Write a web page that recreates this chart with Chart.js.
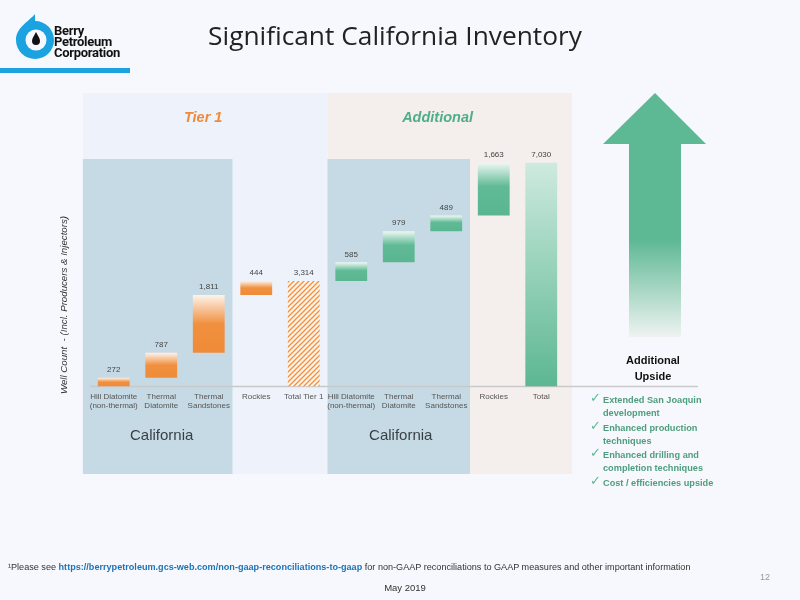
<!DOCTYPE html>
<html>
<head>
<meta charset="utf-8">
<script src="https://cdn.jsdelivr.net/npm/chart.js@4.4.0/dist/chart.umd.min.js"></script>
<style>
  html, body { margin: 0; padding: 0; }
  body { width: 800px; height: 600px; background: #f7f8fd; position: relative; overflow: hidden; font-family: "Liberation Sans", Arial, sans-serif; }
  #chartWrap { position: absolute; left: 0; top: 0; width: 800px; height: 600px; }
  .abs { position: absolute; white-space: nowrap; }
  #title { left: 0; width: 790px; top: 17px; text-align: center; font-family: "Open Sans", sans-serif; font-size: 26.3px; color: #222; }
  #logoText { left: 54px; top: 25px; font-family: Roboto, Arial, sans-serif; font-weight: bold; font-size: 13px; line-height: 11px; color: #111; letter-spacing: -0.3px; }
  #logoBar { left: 0; top: 68px; width: 130px; height: 5px; background: #1aa3e0; }
  #yTitle { left: 63px; top: 305px; transform: translate(-50%, -50%) rotate(-90deg); font-style: italic; font-size: 9.7px; color: #333; }
  #upside { left: 603px; width: 100px; top: 352px; text-align: center; font-weight: bold; font-size: 11px; line-height: 16px; color: #111; }
  #checks { left: 590px; top: 394px; font-weight: bold; font-size: 9.2px; line-height: 13px; color: #4e9d7d; }
  #checks div { position: relative; padding-left: 13px; margin-bottom: 1.5px; }
  #checks div span { position: absolute; left: 0; top: -3px; font-size: 13px; font-weight: normal; color: #5cb893; }
  #footnote { left: 8px; top: 562px; font-size: 9.1px; color: #333; }
  #footnote b { color: #1b74b8; }
  #date { left: 0; width: 810px; top: 582px; text-align: center; font-size: 9.5px; color: #333; }
  #page { left: 760px; top: 572px; font-size: 9px; color: #999; }
</style>
</head>
<body>
<div id="chartWrap"><canvas id="chart" width="800" height="600"></canvas></div>

<svg class="abs" style="left:0;top:0" width="800" height="600">
  <defs>
    <linearGradient id="arrowGrad" gradientUnits="userSpaceOnUse" x1="0" y1="93" x2="0" y2="337">
      <stop offset="0" stop-color="#5db894"/>
      <stop offset="0.6" stop-color="#5db894"/>
      <stop offset="1" stop-color="#eef3f1"/>
    </linearGradient>
  </defs>
  <!-- logo -->
  <path d="M35 14 C28 22 16 28 16 40 A19 19 0 0 0 54 40 A19 19 0 0 0 35 21 Z" fill="#1aa3e0"/>
  <circle cx="36" cy="40" r="10.5" fill="#f7f8fd"/>
  <path d="M36 32 C34 36 32 38 32 41 A4 4 0 0 0 40 41 C40 38 38 36 36 32 Z" fill="#111"/>
  <!-- upside arrow -->
  <polygon points="655,93 706,144 681,144 681,337 629,337 629,144 603,144" fill="url(#arrowGrad)"/>
</svg>

<div id="logoText" class="abs">Berry<br>Petroleum<br>Corporation</div>
<div id="logoBar" class="abs"></div>
<div id="title" class="abs">Significant California Inventory</div>
<div id="yTitle" class="abs">Well Count&nbsp; - (Incl. Producers &amp; Injectors)</div>
<div id="upside" class="abs">Additional<br>Upside</div>
<div id="checks" class="abs">
  <div><span>✓</span>Extended San Joaquin<br>development</div>
  <div><span>✓</span>Enhanced production<br>techniques</div>
  <div><span>✓</span>Enhanced drilling and<br>completion techniques</div>
  <div><span>✓</span>Cost / efficiencies upside</div>
</div>
<div id="footnote" class="abs">¹Please see <b>https://berrypetroleum.gcs-web.com/non-gaap-reconciliations-to-gaap</b> for non-GAAP reconciliations to GAAP measures and other important information</div>
<div id="date" class="abs">May 2019</div>
<div id="page" class="abs">12</div>

<script>
const categories = [
  ["Hill Diatomite", "(non-thermal)"], ["Thermal", "Diatomite"], ["Thermal", "Sandstones"], "Rockies", "Total Tier 1",
  ["Hill Diatomite", "(non-thermal)"], ["Thermal", "Diatomite"], ["Thermal", "Sandstones"], "Rockies", "Total"
];
const wellCounts = [272, 787, 1811, 444, 3314, 585, 979, 489, 1663, 7030];
const isTotal = [false, false, false, false, true, false, false, false, false, true];
const groups = ["tier1", "tier1", "tier1", "tier1", "tier1", "additional", "additional", "additional", "additional", "additional"];
const valueLabels = ["272", "787", "1,811", "444", "3,314", "585", "979", "489", "1,663", "7,030"];

// waterfall: every step starts where the previous one ended, totals start at zero
const ranges = [];
let running = 0;
wellCounts.forEach((v, i) => {
  if (isTotal[i]) {
    ranges.push([0, v]);
  } else {
    ranges.push([running, running + v]);
    running += v;
  }
});

// hatch pattern for the Tier 1 total
function makeHatch() {
  const c = document.createElement("canvas");
  c.width = 5; c.height = 5;
  const g = c.getContext("2d");
  g.fillStyle = "#fff4ea";
  g.fillRect(0, 0, 5, 5);
  g.strokeStyle = "#f0903f";
  g.lineWidth = 1.3;
  g.beginPath();
  g.moveTo(-1, 6); g.lineTo(6, -1);
  g.moveTo(-1, 1); g.lineTo(1, -1);
  g.moveTo(4, 6); g.lineTo(6, 4);
  g.stroke();
  return g.createPattern(c, "repeat");
}

const ctx = document.getElementById("chart").getContext("2d");
const hatch = makeHatch();

function barColor(context) {
  const chart = context.chart;
  if (!chart.chartArea) return "#f0903f";
  const i = context.dataIndex;
  const y = chart.scales.y;
  const top = y.getPixelForValue(ranges[i][1]);
  const bottom = y.getPixelForValue(ranges[i][0]);
  if (groups[i] === "tier1" && isTotal[i]) return hatch;
  const grad = chart.ctx.createLinearGradient(0, top, 0, bottom);
  if (isTotal[i]) {
    grad.addColorStop(0, "#cdeade");
    grad.addColorStop(1, "#5cb792");
  } else if (groups[i] === "tier1") {
    grad.addColorStop(0, "#fdf3ea");
    grad.addColorStop(0.5, "#f0903f");
    grad.addColorStop(1, "#ef8b39");
  } else {
    grad.addColorStop(0, "#eef8f3");
    grad.addColorStop(0.45, "#5fba95");
    grad.addColorStop(1, "#5ab691");
  }
  return grad;
}

// panels behind everything, section names, baseline and value labels
const decorPlugin = {
  id: "decor",
  beforeDraw(chart) {
    const c = chart.ctx;
    const x = chart.scales.x;
    const step = x.getPixelForValue(1) - x.getPixelForValue(0);
    const left = x.getPixelForValue(0) - step * 0.65;
    const split = (x.getPixelForValue(4) + x.getPixelForValue(5)) / 2;
    const right = x.getPixelForValue(9) + step * 0.65;
    const mid23 = (x.getPixelForValue(2) + x.getPixelForValue(3)) / 2;
    const mid78 = (x.getPixelForValue(7) + x.getPixelForValue(8)) / 2;
    const top = 93, blueTop = 159, bottom = 474;

    c.save();
    c.fillStyle = "#eef3fb";
    c.fillRect(left, top, split - left, bottom - top);
    c.fillStyle = "#f4efec";
    c.fillRect(split, top, right - split, bottom - top);
    c.fillStyle = "#c6dae5";
    c.fillRect(left, blueTop, mid23 - left, bottom - blueTop);
    c.fillRect(split, blueTop, mid78 - split, bottom - blueTop);

    c.textAlign = "center";
    c.textBaseline = "middle";
    c.font = "italic bold 14.5px 'Liberation Sans', Arial, sans-serif";
    c.fillStyle = "#ee8a3c";
    c.fillText("Tier 1", (left + split) / 2 - 2, 118);
    c.fillStyle = "#4fae88";
    c.fillText("Additional", split + (right - split) * 0.45, 118);

    c.font = "15px 'Liberation Sans', Arial, sans-serif";
    c.fillStyle = "#3a3f44";
    c.fillText("California", (left + mid23) / 2 + 4, 436);
    c.fillText("California", (split + mid78) / 2 + 2, 436);

    const base = chart.scales.y.getPixelForValue(0);
    c.strokeStyle = "#c9c9c9";
    c.lineWidth = 1.5;
    c.beginPath();
    c.moveTo(x.getPixelForValue(0) - step / 2, base);
    c.lineTo(698, base);
    c.stroke();
    c.restore();
  },
  afterDatasetsDraw(chart) {
    const c = chart.ctx;
    const meta = chart.getDatasetMeta(0);
    c.save();
    c.font = "8px 'Liberation Sans', Arial, sans-serif";
    c.fillStyle = "#444";
    c.textAlign = "center";
    c.textBaseline = "middle";
    meta.data.forEach((bar, i) => {
      c.fillText(valueLabels[i], bar.x, Math.min(bar.y, bar.base) - 8);
    });
    c.restore();
  }
};

new Chart(ctx, {
  type: "bar",
  data: {
    labels: categories,
    datasets: [{
      label: "Well Count",
      data: ranges,
      backgroundColor: barColor,
      borderWidth: 0,
      categoryPercentage: 1,
      barPercentage: 0.67
    }]
  },
  options: {
    responsive: false,
    animation: false,
    layout: { padding: { left: 90, right: 235, top: 100, bottom: 184 } },
    plugins: { legend: { display: false }, tooltip: { enabled: false } },
    scales: {
      x: {
        grid: { display: false, drawTicks: false },
        border: { display: false },
        ticks: {
          autoSkip: false,
          maxRotation: 0,
          minRotation: 0,
          padding: 6,
          color: "#555",
          font: { size: 8, family: "'Liberation Sans', Arial, sans-serif", lineHeight: 1.1 }
        }
      },
      y: { display: false, min: 0, max: 9000 }
    }
  },
  plugins: [decorPlugin]
});
</script>
</body>
</html>
